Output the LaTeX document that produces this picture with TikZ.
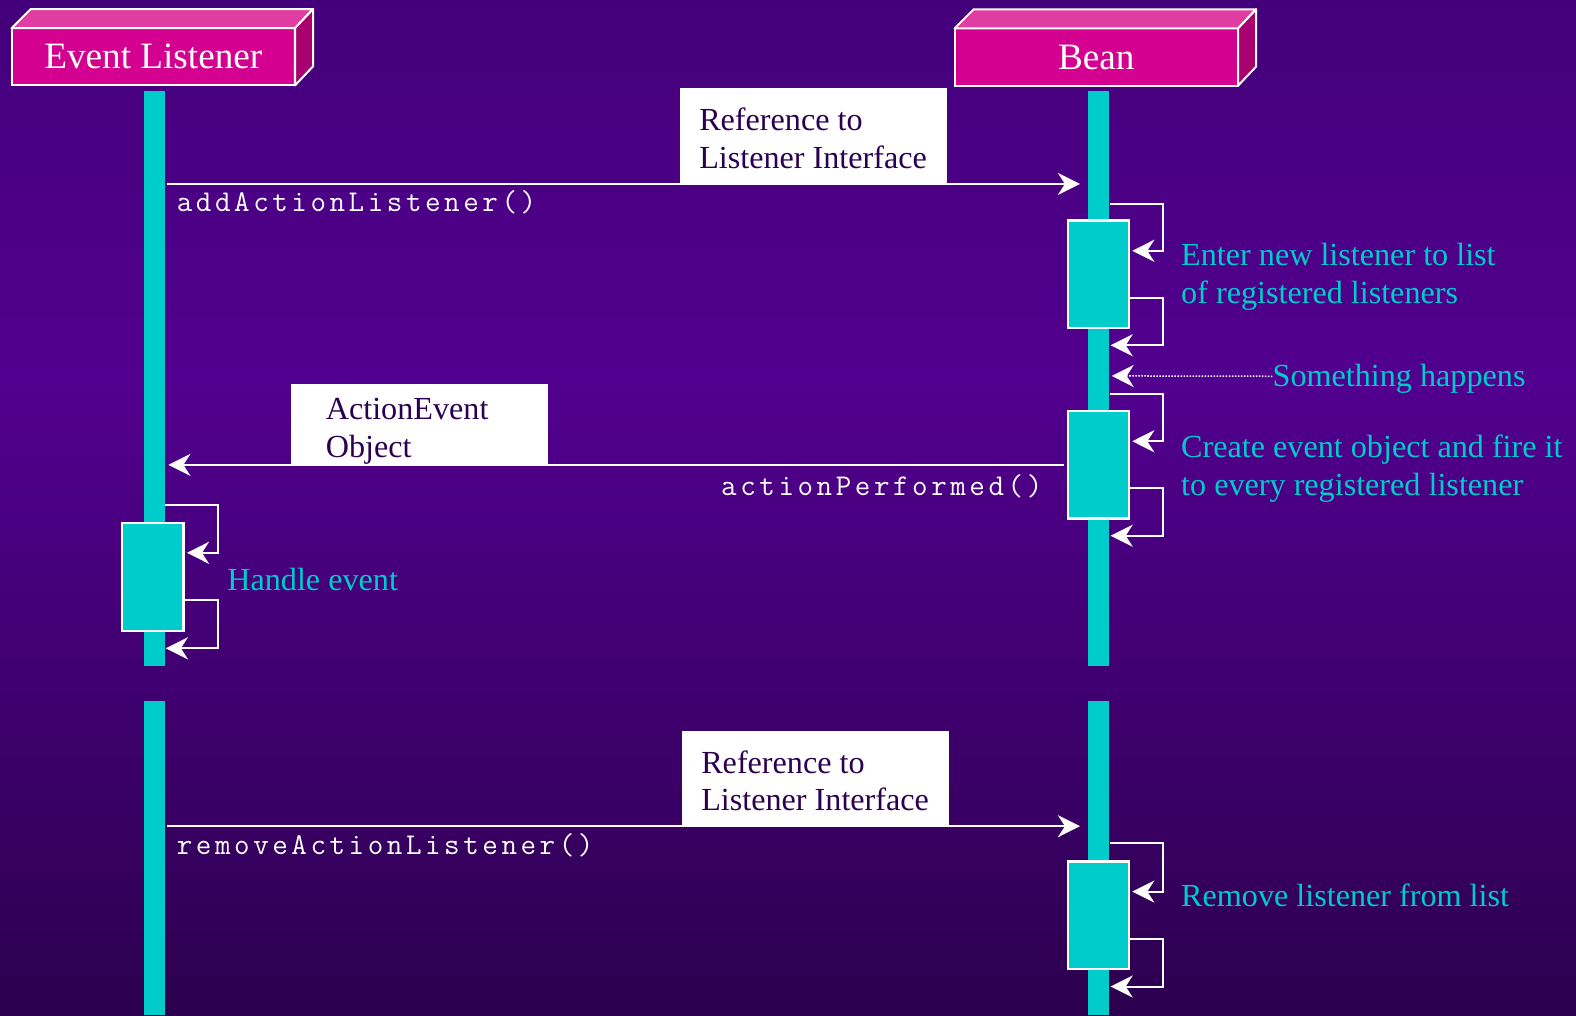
\documentclass[tikz,border=0pt]{standalone}
\usepackage{fontspec}
\setmainfont{Liberation Serif}
\usepackage{tikz}
\usetikzlibrary{arrows.meta}
\usetikzlibrary{calc}

\definecolor{bgtop}{HTML}{44007A}
\definecolor{bgmid}{HTML}{52008F}
\definecolor{bgbot}{HTML}{2C004E}
\definecolor{lifecyan}{HTML}{00CCCC}
\definecolor{headfront}{HTML}{D4008F}
\definecolor{headtop}{HTML}{E03CA2}
\definecolor{headside}{HTML}{A8006E}
\definecolor{labelink}{HTML}{2C0050}

% wide typewriter call names, one fixed cell per character
\makeatletter
\newcommand{\callname}[1]{\@tfor\call@ch:=#1\do{\makebox[19pt][c]{\call@ch}}}
\makeatother

\tikzset{
  msg/.style={draw=white, line width=2pt, -{Stealth[length=22pt,width=22pt,inset=7pt]}},
  happens/.style={msg, line width=1.5pt, dash pattern=on 1.5pt off 1.5pt},
  headbox/.style={fill=headfront, draw=white, line width=2pt, minimum width=282pt, minimum height=57pt,
    inner sep=0pt, outer sep=0pt, text=white, font=\fontsize{37}{44}\selectfont},
  face/.style={draw=white, line width=2pt, line join=round},
  lifebar/.style={fill=lifecyan, minimum width=21pt, inner sep=0pt, outer sep=0pt},
  actbox/.style={draw=white, line width=2.3pt, fill=lifecyan, minimum width=61pt, minimum height=107pt,
    inner sep=0pt, outer sep=0pt},
  tagbox/.style={fill=white, inner sep=0pt, outer sep=0pt},
  tagtext/.style={text=labelink, align=left, inner sep=0pt, anchor=north west, font=\fontsize{32}{37}\selectfont},
  note/.style={text=lifecyan, align=left, inner sep=0pt, font=\fontsize{32}{38}\selectfont},
  method/.style={text=white, inner sep=0pt, font=\ttfamily\fontsize{30}{36}\selectfont}
}

\begin{document}
\begin{tikzpicture}[x=1pt,y=-1pt]
  \useasboundingbox (0,0) rectangle (1568,1010);
  % backdrop, brightest a third of the way down
  \shade[top color=bgtop, bottom color=bgmid] (0,0) rectangle (1568,381);
  \shade[top color=bgmid, bottom color=bgbot] (0,380) rectangle (1568,1010);

  % object heads as boxes
  \node[headbox] (listener) at (152.5,56.5) {Event Listener};
  \filldraw[face, fill=headtop] (listener.north west) -- ++(19,-19) -- ($(listener.north east)+(18,-19)$) -- (listener.north east) -- cycle;
  \filldraw[face, fill=headside] (listener.north east) -- ++(18,-19) -- ($(listener.south east)+(18,-19)$) -- (listener.south east) -- cycle;
  \node[headbox] (bean) at (1090.75,56.75) {Bean};
  \filldraw[face, fill=headtop] (bean.north west) -- ++(19,-19) -- ($(bean.north east)+(18,-19)$) -- (bean.north east) -- cycle;
  \filldraw[face, fill=headside] (bean.north east) -- ++(18,-19) -- ($(bean.south east)+(18,-19)$) -- (bean.south east) -- cycle;

  % lifelines, broken once
  \node[lifebar, minimum height=572pt] (L1) at (153.5,377) {};
  \node[lifebar, minimum height=313pt] (L2) at (153.5,853.5) {};
  \node[lifebar, minimum height=572pt] (B1) at (1093,377) {};
  \node[lifebar, minimum height=313pt] (B2) at (1093,853.5) {};

  % activations
  \node[actbox] (act1) at (1093,273) {};
  \node[actbox] (act2) at (1093,462.5) {};
  \node[actbox, minimum height=108pt] (act3) at (152,574) {};
  \node[actbox] (act4) at (1093,910.5) {};

  % register
  \node[tagbox, minimum width=266pt, minimum height=95pt] (ref1) at (809.5,135.5) {};
  \node[tagtext] (ref1txt) at ($(ref1.north west)+(19,19.5)$) {Reference to\\Listener Interface};
  \draw[msg, shorten <=2pt, shorten >=8pt] (L1.east |- ref1.south) -- (B1.west |- ref1.south);
  \node[method, anchor=base west] (addcall) at (174,210) {\callname{addActionListener()}};
  \draw[msg] ($(act1.north east)+(-19.5,-17)$) -- ++(53.5,0) |- ($(act1.north east)+(3,30)$);
  \draw[msg] ($(act1.south east)+(0,-30)$) -- ++(34,0) |- ($(act1.south east)+(-18.5,17)$);
  \node[note, anchor=north west] (enter) at (1175,242) {Enter new listener to list\\of registered listeners};

  % something happens
  \node[note, anchor=base west] (happen) at (1266,385) {Something happens};
  \draw[happens, shorten >=2.5pt] ([yshift=3pt]happen.west) -- (B1.east |- 0,374);

  % fire
  \draw[msg] ($(act2.north east)+(-19.5,-17)$) -- ++(53.5,0) |- ($(act2.north east)+(3,30)$);
  \draw[msg] ($(act2.south east)+(0,-30)$) -- ++(34,0) |- ($(act2.south east)+(-18.5,17)$);
  \node[note, anchor=north west] (create) at (1175,432) {Create event object and fire it\\to every registered listener};
  \node[tagbox, minimum width=255pt, minimum height=80pt] (evobj) at (417.5,422.5) {};
  \node[tagtext, font=\fontsize{32}{38}\selectfont] (evobjtxt) at ($(evobj.north west)+(34,13.5)$) {ActionEvent\\Object};
  \draw[msg, shorten <=4pt, shorten >=3.5pt] (act2.west |- evobj.south) -- (L1.east |- evobj.south);
  \node[method, anchor=base east] (perfcall) at (1039,493) {\callname{actionPerformed()}};

  % handle
  \draw[msg] ($(act3.north east)+(-18.5,-17.5)$) -- ++(52.5,0) |- ($(act3.north east)+(3.5,30)$);
  \draw[msg] ($(act3.south east)+(0,-31)$) -- ++(34,0) |- ($(act3.south east)+(-17.5,17)$);
  \node[note, anchor=base west] (handle) at (226,587) {Handle event};

  % unregister
  \node[tagbox, minimum width=266pt, minimum height=95pt] (ref2) at (811.5,774.5) {};
  \node[tagtext] (ref2txt) at ($(ref2.north west)+(19,19.5)$) {Reference to\\Listener Interface};
  \draw[msg, shorten <=2pt, shorten >=8pt] (L2.east |- ref2.south) -- (B2.west |- ref2.south);
  \node[method, anchor=base west] (remcall) at (174,850) {\callname{removeActionListener()}};
  \draw[msg] ($(act4.north east)+(-19.5,-18)$) -- ++(53.5,0) |- ($(act4.north east)+(3,30)$);
  \draw[msg] ($(act4.south east)+(0,-30)$) -- ++(34,0) |- ($(act4.south east)+(-18.5,17.5)$);
  \node[note, anchor=base west] (remove) at (1175,902) {Remove listener from list};
\end{tikzpicture}
\end{document}
